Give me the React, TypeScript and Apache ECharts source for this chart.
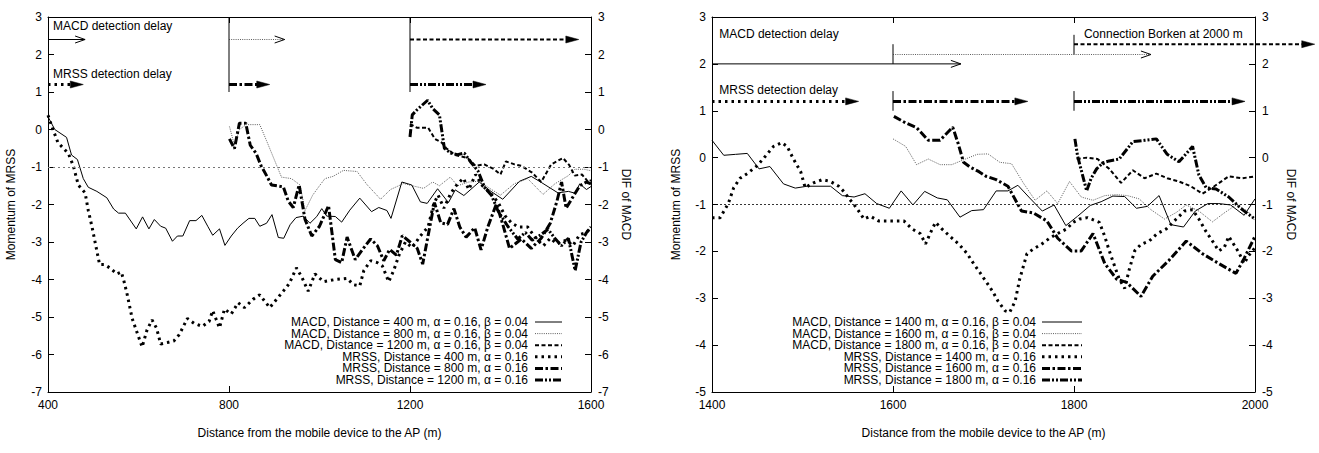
import React, { useEffect, useRef } from "react";
import * as echarts from "echarts";

const FONT = "'Liberation Sans', Arial, Helvetica, sans-serif";
const X_TITLE = "Distance from the mobile device to the AP (m)";
const Y_LEFT_TITLE = "Momentum of MRSS";
const Y_RIGHT_TITLE = "DIF of MACD";

// ---------- Left panel (400 m .. 1600 m) ----------
const leftXRange = [400, 1600];
const leftYRange = [-7, 3];

const leftMacd400 = [
  [400, 0.34], [415, 0.0], [441, -0.21], [452, -0.68], [465, -0.8], [478, -1.31], [489, -1.54], [508, -1.65],
  [530, -1.82], [545, -2.12], [556, -2.23], [571, -2.23], [595, -2.65], [609, -2.33], [623, -2.65], [635, -2.4],
  [649, -2.58], [660, -2.63], [675, -2.98], [686, -2.84], [698, -2.84], [713, -2.43], [727, -2.43], [740, -2.29],
  [753, -2.58], [764, -2.82], [779, -2.65], [791, -3.09], [805, -2.84], [819, -2.63], [831, -2.5], [844, -2.37],
  [857, -2.37], [868, -2.58], [883, -2.5], [895, -2.27], [909, -2.88], [921, -2.9], [935, -2.54], [948, -2.35],
  [964, -2.31], [979, -2.5], [994, -2.32], [1005, -2.11], [1016, -2.31], [1035, -2.32], [1049, -2.47], [1067, -2.15],
  [1089, -1.83], [1115, -2.19], [1131, -2.08], [1149, -2.16], [1158, -2.37], [1182, -1.4], [1204, -1.48], [1223, -1.93],
  [1238, -1.97], [1261, -1.58], [1285, -1.95], [1300, -1.61], [1319, -1.76], [1353, -1.4], [1379, -1.65], [1405, -1.86],
  [1442, -1.38], [1468, -1.25], [1490, -1.41], [1527, -1.69], [1550, -1.65], [1565, -1.7], [1575, -1.45], [1590, -1.6],
  [1600, -1.52],
];

const leftMacd800 = [
  [801, 0.08], [812, -0.42], [823, 0.0], [838, 0.13], [868, 0.13], [883, -0.3], [900, -0.8], [916, -1.27],
  [938, -1.31], [957, -1.48], [968, -2.16], [985, -1.75], [1000, -1.5], [1012, -1.31], [1030, -1.25], [1053, -1.09],
  [1083, -1.12], [1105, -1.47], [1135, -1.86], [1157, -1.6], [1186, -1.44], [1205, -1.5], [1230, -1.57], [1250, -1.4],
  [1265, -1.5], [1289, -1.27], [1305, -1.5], [1330, -1.4], [1353, -1.38], [1380, -1.6], [1400, -1.75], [1430, -1.45],
  [1460, -1.31], [1494, -1.73], [1520, -1.45], [1550, -1.23], [1564, -1.06], [1585, -1.06], [1600, -1.1],
];

const leftMacd1200 = [
  [1200, 0.15], [1215, 0.05], [1240, 0.05], [1255, -0.25], [1270, -0.35], [1280, -0.5], [1300, -0.68], [1327, -0.76],
  [1345, -0.97], [1364, -0.93], [1386, -1.06], [1400, -1.2], [1412, -0.85], [1431, -0.93], [1446, -0.97], [1470, -1.15],
  [1490, -1.4], [1512, -0.93], [1538, -0.76], [1552, -0.95], [1564, -1.23], [1580, -1.2], [1594, -1.4], [1600, -1.35],
];

const leftMrss400 = [
  [400, 0.38], [411, 0.0], [422, -0.35], [445, -0.64], [456, -0.97], [467, -1.48], [482, -1.69], [489, -2.16],
  [497, -2.58], [504, -3.0], [514, -3.6], [524, -3.6], [538, -3.7], [552, -3.85], [562, -3.8], [568, -4.05],
  [575, -4.4], [586, -5.04], [597, -5.42], [608, -5.8], [619, -5.34], [630, -5.08], [640, -5.3], [649, -5.72],
  [664, -5.68], [678, -5.64], [690, -5.47], [708, -5.04], [723, -5.17], [741, -5.25], [756, -5.12], [764, -4.83],
  [779, -5.29], [790, -4.79], [805, -4.92], [820, -4.62], [834, -4.75], [853, -4.53], [868, -4.41], [890, -4.75],
  [905, -4.53], [920, -4.31], [933, -4.11], [949, -3.69], [961, -3.94], [975, -4.31], [990, -3.85], [1009, -4.06],
  [1035, -4.0], [1061, -3.97], [1075, -4.14], [1089, -4.17], [1098, -3.76], [1113, -3.5], [1128, -3.55], [1139, -3.64],
  [1153, -4.06], [1164, -3.76], [1176, -3.34], [1190, -3.0], [1205, -3.15], [1222, -2.85], [1240, -2.6], [1252, -2.0],
  [1262, -1.75], [1275, -2.1], [1290, -1.7], [1305, -1.45], [1318, -1.3], [1330, -1.6], [1345, -1.2], [1360, -1.5],
  [1378, -1.7], [1395, -1.95], [1410, -2.3], [1425, -2.5], [1440, -2.6], [1460, -2.6], [1478, -2.9], [1495, -3.1],
  [1510, -2.9], [1525, -3.05], [1545, -2.95], [1560, -3.1], [1575, -2.8], [1590, -2.75], [1600, -2.6],
];

const leftMrss800 = [
  [801, -0.25], [812, -0.51], [823, 0.17], [837, 0.17], [847, -0.42], [860, -0.64], [871, -0.97], [883, -1.23],
  [894, -1.48], [906, -1.5], [920, -1.53], [931, -1.91], [942, -2.08], [955, -1.48], [968, -2.4], [983, -2.84],
  [1000, -2.58], [1020, -2.03], [1035, -3.47], [1049, -3.55], [1061, -2.87], [1079, -3.47], [1095, -3.2], [1113, -2.92],
  [1128, -3.1], [1142, -3.5], [1155, -3.2], [1170, -3.35], [1183, -2.83], [1200, -3.0], [1216, -3.17], [1228, -3.59],
  [1240, -2.83], [1254, -1.95], [1268, -2.49], [1283, -2.53], [1297, -2.11], [1310, -2.6], [1324, -2.87], [1343, -2.62],
  [1357, -3.21], [1372, -2.6], [1391, -1.98], [1405, -2.53], [1420, -3.17], [1446, -2.92], [1468, -3.17], [1490, -2.9],
  [1510, -2.5], [1525, -1.9], [1535, -1.4], [1545, -2.1], [1560, -1.8], [1575, -1.5], [1590, -1.4], [1600, -1.45],
];

const leftMrss1200 = [
  [1200, -0.2], [1205, 0.39], [1215, 0.52], [1239, 0.78], [1250, 0.56], [1265, 0.39], [1276, -0.5], [1290, -0.63],
  [1305, -0.67], [1320, -0.63], [1335, -0.88], [1350, -1.1], [1365, -1.55], [1380, -1.75], [1394, -2.16], [1416, -2.58],
  [1438, -2.92], [1455, -2.75], [1470, -2.95], [1490, -2.8], [1505, -2.66], [1520, -2.9], [1535, -3.1], [1550, -2.9],
  [1565, -3.76], [1578, -3.0], [1590, -2.75], [1600, -2.6],
];

// detection-delay arrows: [start, end]
const leftMacdDelay = [[400, 482], [800, 923], [1200, 1573]];
const leftMacdDelayLevel = 2.4;
const leftMrssDelay = [[400, 478], [800, 890], [1200, 1368]];
const leftMrssDelayLevel = 1.2;
const leftHandoverMarks = [800, 1200];

// ---------- Right panel (1400 m .. 2000 m) ----------
const rightXRange = [1400, 2000];
const rightYRange = [-5, 3];

const rightMacd1400 = [
  [1400, 0.37], [1413, 0.05], [1426, 0.07], [1439, 0.09], [1452, -0.24], [1464, -0.19], [1479, -0.56], [1492, -0.65],
  [1505, -0.61], [1531, -0.61], [1544, -0.81], [1557, -0.84], [1569, -0.77], [1582, -0.98], [1596, -1.08], [1609, -0.71],
  [1622, -1.01], [1635, -0.72], [1649, -0.86], [1660, -0.9], [1674, -1.27], [1687, -1.13], [1700, -1.11], [1714, -0.71],
  [1727, -0.71], [1738, -0.59], [1751, -0.86], [1765, -1.14], [1778, -1.01], [1791, -1.45], [1804, -1.25], [1818, -1.02],
  [1830, -0.94], [1843, -0.82], [1856, -0.83], [1869, -1.08], [1881, -1.04], [1894, -0.81], [1907, -1.43], [1921, -1.48],
  [1934, -1.14], [1948, -0.98], [1960, -0.98], [1973, -1.01], [1988, -1.23], [2000, -0.88],
];

const rightMacd1600 = [
  [1600, 0.4], [1614, 0.24], [1626, -0.15], [1639, -0.03], [1652, -0.15], [1665, -0.15], [1680, -0.03], [1693, 0.07],
  [1705, 0.08], [1718, -0.1], [1731, -0.13], [1744, -0.54], [1757, -0.91], [1770, -0.71], [1782, -0.98], [1795, -0.51],
  [1808, -0.84], [1821, -0.91], [1834, -0.81], [1847, -0.79], [1859, -0.81], [1872, -0.88], [1885, -1.11], [1900, -1.31],
  [1913, -1.17], [1924, -1.01], [1938, -1.14], [1953, -1.37], [1966, -1.18], [1979, -1.01], [1992, -1.14], [2000, -1.35],
];

const rightMacd1800 = [
  [1803, -0.03], [1814, 0.0], [1826, -0.03], [1839, -0.24], [1852, -0.54], [1865, -0.27], [1878, -0.44], [1891, -0.34],
  [1903, -0.44], [1916, -0.51], [1929, -0.61], [1942, -0.77], [1955, -0.61], [1971, -0.4], [1986, -0.44], [2000, -0.4],
];

const rightMrss1400 = [
  [1400, -1.28], [1409, -1.28], [1418, -0.98], [1424, -0.64], [1431, -0.44], [1439, -0.34], [1450, -0.17], [1459, 0.03],
  [1468, 0.24], [1477, 0.32], [1483, 0.24], [1490, -0.03], [1498, -0.3], [1503, -0.64], [1512, -0.54], [1522, -0.47],
  [1531, -0.51], [1540, -0.61], [1545, -0.71], [1553, -0.91], [1560, -1.08], [1568, -1.31], [1575, -1.25], [1584, -1.35],
  [1593, -1.35], [1612, -1.35], [1621, -1.52], [1630, -1.62], [1636, -1.84], [1641, -1.62], [1647, -1.38], [1654, -1.52],
  [1663, -1.68], [1673, -1.85], [1682, -2.05], [1689, -2.26], [1696, -2.45], [1703, -2.65], [1710, -2.85], [1716, -3.06],
  [1724, -3.27], [1729, -3.3], [1735, -3.06], [1740, -2.59], [1748, -2.05], [1755, -1.95], [1764, -1.85], [1773, -1.72],
  [1782, -1.62], [1792, -1.52], [1799, -1.38], [1806, -1.31], [1815, -1.28], [1828, -1.38], [1834, -1.68], [1839, -1.99],
  [1845, -2.32], [1850, -2.59], [1856, -2.79], [1861, -2.39], [1867, -1.99], [1874, -1.85], [1883, -1.78], [1892, -1.62],
  [1902, -1.52], [1913, -1.31], [1922, -1.14], [1931, -1.11], [1938, -1.31], [1946, -1.58], [1953, -1.78], [1960, -1.99],
  [1966, -1.92], [1971, -1.68], [1982, -2.02], [1988, -2.26], [1993, -2.09], [2000, -1.92],
];

const rightMrss1600 = [
  [1601, 0.88], [1614, 0.74], [1626, 0.64], [1639, 0.37], [1652, 0.37], [1666, 0.65], [1672, 0.3], [1678, -0.1],
  [1685, -0.2], [1695, -0.3], [1703, -0.4], [1714, -0.47], [1727, -0.61], [1742, -1.14], [1755, -1.18], [1770, -1.35],
  [1782, -1.72], [1797, -1.99], [1808, -1.99], [1821, -1.62], [1834, -2.26], [1847, -2.59], [1858, -2.66], [1874, -2.96],
  [1887, -2.53], [1905, -2.19], [1924, -1.78], [1942, -2.05], [1960, -2.26], [1979, -2.47], [1988, -2.15], [2000, -1.68],
];

const rightMrss1800 = [
  [1801, 0.4], [1804, 0.03], [1814, -0.71], [1819, -0.44], [1825, -0.24], [1832, -0.11], [1839, -0.07], [1850, -0.03],
  [1865, 0.34], [1878, 0.37], [1891, 0.4], [1903, 0.07], [1916, -0.09], [1931, 0.24], [1938, -0.37], [1946, -0.64],
  [1957, -0.67], [1971, -0.84], [1986, -1.11], [2000, -1.31],
];

// detection-delay arrows: [start, end, level]
const rightMacdDelay = [[1400, 1675, 2.0], [1600, 1885, 2.2], [1800, 2066, 2.42]];
const rightMrssDelay = [[1400, 1562], [1600, 1749], [1800, 1989]];
const rightMrssDelayLevel = 1.2;
// vertical markers: [distance, from, to]
const rightHandoverMarks = [[1600, 2.0, 2.42], [1800, 2.2, 2.62], [1600, 1.0, 1.42], [1800, 1.0, 1.42]];

const thresholdLevel = -1;

// ---------- styles ----------
const ST = {
  macdSolid: { color: "#000", width: 1, dash: null as number[] | null },
  macdThin: { color: "#333", width: 0.8, dash: [1, 1.2] },
  macdDash: { color: "#000", width: 2, dash: [4, 2.5] },
  mrssDot: { color: "#000", width: 3, dash: [2.5, 4] },
  mrssDashDot: { color: "#000", width: 3, dash: [8, 2.5, 2.5, 2.5] },
  mrssDashDotDot: { color: "#000", width: 3, dash: [8, 2, 2, 2, 2, 2] },
};

function ls(s: any) {
  return { color: s.color, width: s.width, type: s.dash ? s.dash : "solid" };
}

const leftSeriesDefs = [
  { name: "MACD, Distance = 400 m, α = 0.16, β = 0.04", data: leftMacd400, st: ST.macdSolid },
  { name: "MACD, Distance = 800 m, α = 0.16, β = 0.04", data: leftMacd800, st: ST.macdThin },
  { name: "MACD, Distance = 1200 m, α = 0.16, β = 0.04", data: leftMacd1200, st: ST.macdDash },
  { name: "MRSS, Distance = 400 m, α = 0.16", data: leftMrss400, st: ST.mrssDot },
  { name: "MRSS, Distance = 800 m, α = 0.16", data: leftMrss800, st: ST.mrssDashDot },
  { name: "MRSS, Distance = 1200 m, α = 0.16", data: leftMrss1200, st: ST.mrssDashDotDot },
];

const rightSeriesDefs = [
  { name: "MACD, Distance = 1400 m, α = 0.16, β = 0.04", data: rightMacd1400, st: ST.macdSolid },
  { name: "MACD, Distance = 1600 m, α = 0.16, β = 0.04", data: rightMacd1600, st: ST.macdThin },
  { name: "MACD, Distance = 1800 m, α = 0.16, β = 0.04", data: rightMacd1800, st: ST.macdDash },
  { name: "MRSS, Distance = 1400 m, α = 0.16", data: rightMrss1400, st: ST.mrssDot },
  { name: "MRSS, Distance = 1600 m, α = 0.16", data: rightMrss1600, st: ST.mrssDashDot },
  { name: "MRSS, Distance = 1800 m, α = 0.16", data: rightMrss1800, st: ST.mrssDashDotDot },
];

const axisCommon = {
  type: "value",
  axisLine: { show: true, onZero: false, lineStyle: { color: "#000", width: 1 } },
  axisTick: { show: true, inside: true, length: 6, lineStyle: { color: "#000", width: 1 } },
  splitLine: { show: false },
  nameTextStyle: { color: "#000", fontSize: 12, fontFamily: FONT },
};
const labelStyle = { color: "#000", fontSize: 12, fontFamily: FONT, formatter: (v: number) => String(v) };

function buildOption() {
  const series: any[] = [];
  leftSeriesDefs.forEach((d, i) => {
    series.push({
      name: d.name, type: "line", xAxisIndex: 0, yAxisIndex: 0, data: d.data,
      showSymbol: false, symbol: "none", silent: true, lineStyle: ls(d.st),
      markLine: i === 0 ? {
        silent: true, symbol: ["none", "none"], label: { show: false },
        lineStyle: { color: "#777", width: 1, type: [2, 3] },
        data: [{ yAxis: thresholdLevel }],
      } : undefined,
    });
  });
  rightSeriesDefs.forEach((d, i) => {
    series.push({
      name: d.name, type: "line", xAxisIndex: 2, yAxisIndex: 2, data: d.data,
      showSymbol: false, symbol: "none", silent: true, lineStyle: ls(d.st),
      markLine: i === 0 ? {
        silent: true, symbol: ["none", "none"], label: { show: false },
        lineStyle: { color: "#000", width: 0.8, type: [2, 2] },
        data: [{ yAxis: thresholdLevel }],
      } : undefined,
    });
  });

  return {
    animation: false,
    backgroundColor: "#fff",
    textStyle: { fontFamily: FONT },
    grid: [
      { left: 48, top: 17, width: 543, height: 375, containLabel: false },
      { left: 712, top: 17, width: 543, height: 375, containLabel: false },
    ],
    xAxis: [
      { ...axisCommon, gridIndex: 0, position: "bottom", min: leftXRange[0], max: leftXRange[1], interval: 400,
        axisLabel: { ...labelStyle, margin: 7 }, name: X_TITLE, nameLocation: "middle", nameGap: 35 },
      { ...axisCommon, gridIndex: 0, position: "top", min: leftXRange[0], max: leftXRange[1], interval: 400,
        axisLabel: { show: false } },
      { ...axisCommon, gridIndex: 1, position: "bottom", min: rightXRange[0], max: rightXRange[1], interval: 200,
        axisLabel: { ...labelStyle, margin: 7 }, name: X_TITLE, nameLocation: "middle", nameGap: 35 },
      { ...axisCommon, gridIndex: 1, position: "top", min: rightXRange[0], max: rightXRange[1], interval: 200,
        axisLabel: { show: false } },
    ],
    yAxis: [
      { ...axisCommon, gridIndex: 0, position: "left", min: leftYRange[0], max: leftYRange[1], interval: 1,
        axisLabel: { ...labelStyle, margin: 6 }, name: Y_LEFT_TITLE, nameLocation: "middle", nameGap: 31 },
      { ...axisCommon, gridIndex: 0, position: "right", min: leftYRange[0], max: leftYRange[1], interval: 1,
        axisLabel: { ...labelStyle, margin: 7 }, name: Y_RIGHT_TITLE, nameLocation: "middle", nameGap: 29, nameRotate: -90 },
      { ...axisCommon, gridIndex: 1, position: "left", min: rightYRange[0], max: rightYRange[1], interval: 1,
        axisLabel: { ...labelStyle, margin: 6 }, name: Y_LEFT_TITLE, nameLocation: "middle", nameGap: 30 },
      { ...axisCommon, gridIndex: 1, position: "right", min: rightYRange[0], max: rightYRange[1], interval: 1,
        axisLabel: { ...labelStyle, margin: 7 }, name: Y_RIGHT_TITLE, nameLocation: "middle", nameGap: 30, nameRotate: -90 },
    ],
    series,
  };
}

function arrowGraphics(p0: number[], p1: number[], st: any, filled: boolean) {
  const out: any[] = [];
  const headLen = filled ? 13 : 10;
  const half = 3.5;
  const y = p0[1];
  const tip = p1[0];
  const shaftEnd = filled ? tip - headLen + 1 : tip;
  out.push({
    type: "line", silent: true, z: 10,
    shape: { x1: p0[0], y1: y, x2: shaftEnd, y2: y },
    style: { stroke: st.color, lineWidth: st.width, lineDash: st.dash || null },
  });
  if (filled) {
    out.push({
      type: "polygon", silent: true, z: 10,
      shape: { points: [[tip - headLen, y - half], [tip, y], [tip - headLen, y + half]] },
      style: { fill: "#000", stroke: "#000", lineWidth: 0.5 },
    });
  } else {
    out.push({
      type: "polyline", silent: true, z: 10,
      shape: { points: [[tip - headLen, y - half], [tip, y], [tip - headLen, y + half]] },
      style: { stroke: "#000", lineWidth: 1, fill: null },
    });
  }
  return out;
}

function textGraphic(p: number[], text: string) {
  return {
    type: "text", silent: true, z: 10, x: p[0], y: p[1],
    style: { text, fill: "#000", font: `12px ${FONT}`, textAlign: "left", textVerticalAlign: "middle" },
  };
}

function legendGraphics(defs: any[], textRight: number, sampleX1: number, sampleX2: number, top: number, step: number) {
  const out: any[] = [];
  defs.forEach((d, i) => {
    const y = top + i * step;
    out.push({
      type: "text", silent: true, z: 10, x: textRight, y,
      style: { text: d.name, fill: "#000", font: `12px ${FONT}`, textAlign: "right", textVerticalAlign: "middle" },
    });
    out.push({
      type: "line", silent: true, z: 10,
      shape: { x1: sampleX1, y1: y, x2: sampleX2, y2: y },
      style: { stroke: d.st.color, lineWidth: d.st.width, lineDash: d.st.dash || null },
    });
  });
  return out;
}

function buildGraphics(chart: any) {
  const L = (x: number, y: number) => chart.convertToPixel({ xAxisIndex: 0, yAxisIndex: 0 }, [x, y]);
  const R = (x: number, y: number) => chart.convertToPixel({ xAxisIndex: 2, yAxisIndex: 2 }, [x, y]);
  const g: any[] = [];

  // left panel markers
  leftHandoverMarks.forEach((x) => {
    const a = L(x, 3), b = L(x, 1);
    g.push({ type: "line", silent: true, z: 10, shape: { x1: a[0], y1: a[1], x2: b[0], y2: b[1] }, style: { stroke: "#000", lineWidth: 1 } });
  });
  const lMacdSt = [ST.macdSolid, ST.macdThin, ST.macdDash];
  const lMrssSt = [ST.mrssDot, ST.mrssDashDot, ST.mrssDashDotDot];
  leftMacdDelay.forEach((a, i) => {
    g.push(...arrowGraphics(L(a[0], leftMacdDelayLevel), L(a[1], leftMacdDelayLevel), lMacdSt[i], i === 2));
  });
  leftMrssDelay.forEach((a, i) => {
    g.push(...arrowGraphics(L(a[0], leftMrssDelayLevel), L(a[1], leftMrssDelayLevel), lMrssSt[i], true));
  });
  g.push(textGraphic(L(411, 2.76), "MACD detection delay"));
  g.push(textGraphic(L(411, 1.48), "MRSS detection delay"));

  // right panel markers
  rightHandoverMarks.forEach((m) => {
    const a = R(m[0], m[2]), b = R(m[0], m[1]);
    g.push({ type: "line", silent: true, z: 10, shape: { x1: a[0], y1: a[1], x2: b[0], y2: b[1] }, style: { stroke: "#000", lineWidth: 1 } });
  });
  rightMacdDelay.forEach((a, i) => {
    g.push(...arrowGraphics(R(a[0], a[2]), R(a[1], a[2]), lMacdSt[i], i === 2));
  });
  rightMrssDelay.forEach((a, i) => {
    g.push(...arrowGraphics(R(a[0], rightMrssDelayLevel), R(a[1], rightMrssDelayLevel), lMrssSt[i], true));
  });
  g.push(textGraphic(R(1408, 2.63), "MACD detection delay"));
  g.push(textGraphic(R(1408, 1.45), "MRSS detection delay"));
  g.push(textGraphic(R(1811, 2.63), "Connection Borken at 2000 m"));

  // legends
  g.push(...legendGraphics(leftSeriesDefs, 528, 535, 562, 322, 11.6));
  g.push(...legendGraphics(rightSeriesDefs, 1036, 1042, 1082, 322, 11.6));
  return g;
}

export default function App() {
  const ref = useRef<HTMLDivElement>(null);
  useEffect(() => {
    if (!ref.current) return;
    const chart = echarts.init(ref.current, null, { renderer: "svg" });
    chart.setOption(buildOption() as any);
    chart.setOption({ graphic: buildGraphics(chart) } as any);
    return () => chart.dispose();
  }, []);
  return (
    <div
      ref={ref}
      style={{ position: "fixed", left: 0, top: 0, width: 1319, height: 453, background: "#fff" }}
    />
  );
}
